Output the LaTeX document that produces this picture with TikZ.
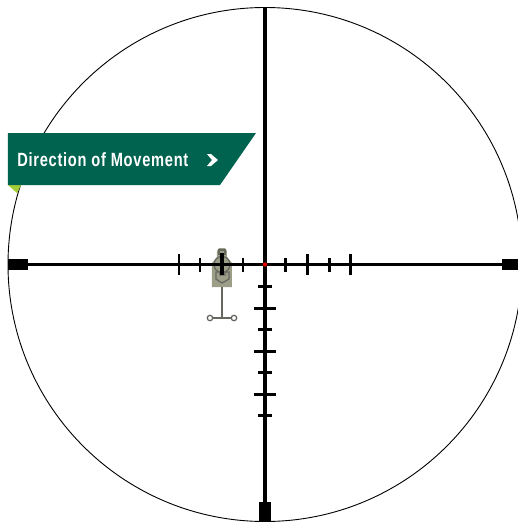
\documentclass[tikz,border=0pt]{standalone}
\usepackage{fontspec}
\setsansfont{Liberation Sans}[LetterSpace=5]
\definecolor{bannergreen}{HTML}{006350}
\definecolor{lime}{HTML}{A4CE39}
\definecolor{targetgray}{HTML}{9C9E88}
\definecolor{targetline}{HTML}{66685F}
\begin{document}
\begin{tikzpicture}[x=0.02cm, y=-0.02cm, font=\sffamily, wire/.style={black, line width=0.064cm}, tick/.style={black, line width=0.06cm}, post/.style={fill=black, draw=none}, inner/.style={draw=targetline, line width=0.025cm}]
\clip (0,0) rectangle (518,522);
\fill[white] (0,0) rectangle (518,522);
\draw[black, line width=0.018cm] (265,264.5) circle (257);
% target
\fill[targetgray] (217,251) -- (219,248) -- (225,248) -- (227,251) -- (227,257) -- (232,263) -- (232,287) -- (212,287) -- (212,263) -- (217,257) -- cycle;
\draw[inner] (219,250) rectangle (225,254);
\draw[inner] (222,264.5) circle (8);
\draw[inner] (216,272) -- (216,279) -- (222,283) -- (229,279) -- (229,272) -- (225,272) -- (225,275) -- (220,275) -- (220,272) -- cycle;
\draw[draw=targetline, line width=0.05cm] (222,287) -- (222,318);
\draw[draw=targetline, line width=0.05cm] (210,318) -- (234,318);
\foreach \x in {210,234} \draw[draw=targetline, fill=white, line width=0.025cm] (\x,318) circle (2.7);
% crosshair
\draw[wire] (8,264.5) -- (518,264.5);
\draw[wire] (265,8) -- (265,521);
\fill[post] (8,259) rectangle (28,270);
\fill[post] (502,259) rectangle (518,270);
\fill[post] (259,502) rectangle (271,521);
\foreach \x in {200,243,286,330} \draw[tick] (\x,258) -- (\x,272);
\foreach \x in {179,308,351} \draw[tick] (\x,254) -- (\x,275);
\draw[tick, line width=0.075cm] (222,253) -- (222,275);
\foreach \y in {286,329,372,415} \draw[tick] (258,\y) -- (272,\y);
\foreach \y in {308,351,394} \draw[tick] (254,\y) -- (276,\y);
\fill[red!90!black] (265,264.5) circle (2.2);
% banner
\fill[lime] (8,185) -- (21,185) -- (17,193) -- cycle;
\fill[bannergreen] (8,133) -- (256,133) -- (220,185) -- (8,185) -- cycle;
\node[anchor=west, text=white, inner sep=0pt, xscale=0.765, font=\sffamily\bfseries\fontsize{10.9}{12}\selectfont] (label) at (17,160) {Direction of Movement};
\fill[white] (207,154) -- (211,154) -- (218,160) -- (211,166) -- (207,166) -- (212,160) -- cycle;
\end{tikzpicture}
\end{document}
